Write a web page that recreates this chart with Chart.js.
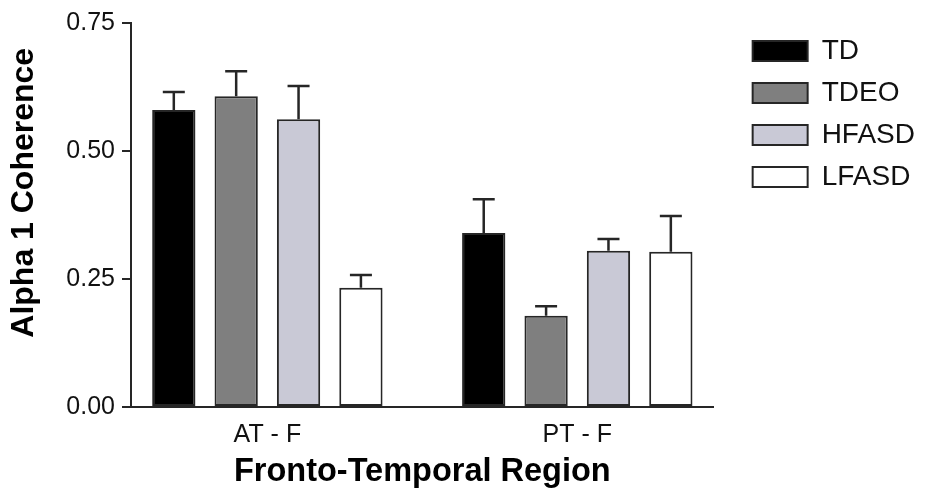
<!DOCTYPE html>
<html>
<head>
<meta charset="utf-8">
<title>Alpha 1 Coherence</title>
<script src="https://cdn.jsdelivr.net/npm/chart.js@4.4.1/dist/chart.umd.min.js"></script>
<style>
  html, body { margin: 0; padding: 0; background: #fff; }
  #wrap { width: 926px; height: 493px; }
</style>
</head>
<body>
<div id="wrap"><canvas id="chart" width="926" height="493"></canvas></div>
<script>
const regions = ["AT - F", "PT - F"];
const groups = ["TD", "TDEO", "HFASD", "LFASD"];

const tdMean = [0.580, 0.340];
const tdSem = [0.035, 0.066];
const tdeoMean = [0.607, 0.178];
const tdeoSem = [0.049, 0.019];
const hfasdMean = [0.562, 0.305];
const hfasdSem = [0.065, 0.023];
const lfasdMean = [0.233, 0.303];
const lfasdSem = [0.025, 0.070];

const yTicks = [0, 0.25, 0.5, 0.75];

const FONT = "'Liberation Sans', Arial, sans-serif";
const INK = "#262626";

const fills = ["#000000", "#7f7f7f", "#c9c9d6", "#ffffff"];
const means = [tdMean, tdeoMean, hfasdMean, lfasdMean];
const sems = [tdSem, tdeoSem, hfasdSem, lfasdSem];

// regions sit at x = 1, 2 on a linear axis so the gap at the edges can be tuned
const xMin = 0.56;
const xMax = 2.44;

const datasets = groups.map((name, g) => ({
  label: name,
  data: means[g].map((v, i) => ({ x: i + 1, y: v })),
  sem: sems[g],
  backgroundColor: fills[g],
  borderColor: INK,
  borderWidth: 2,
  borderSkipped: false,
}));

// upward-only SEM whiskers, same as the original figure
const errorBars = {
  id: "errorBars",
  afterDatasetsDraw(chart) {
    const { ctx } = chart;
    const yScale = chart.scales.y;
    ctx.save();
    ctx.strokeStyle = INK;
    ctx.lineWidth = 2.5;
    chart.data.datasets.forEach((ds, d) => {
      const meta = chart.getDatasetMeta(d);
      meta.data.forEach((bar, i) => {
        const top = yScale.getPixelForValue(ds.data[i].y + ds.sem[i]);
        ctx.beginPath();
        ctx.moveTo(bar.x, bar.y);
        ctx.lineTo(bar.x, top);
        ctx.moveTo(bar.x - 11, top);
        ctx.lineTo(bar.x + 11, top);
        ctx.stroke();
      });
    });
    ctx.restore();
  },
};

new Chart(document.getElementById("chart"), {
  type: "bar",
  data: { datasets },
  options: {
    responsive: false,
    animation: false,
    devicePixelRatio: 1,
    categoryPercentage: 0.805,
    barPercentage: 0.694,
    layout: { padding: { top: 23, right: 1, bottom: 0, left: 0 } },
    plugins: {
      tooltip: { enabled: false },
      legend: {
        position: "right",
        align: "start",
        maxWidth: 400,
        labels: {
          boxWidth: 55,
          boxHeight: 20,
          padding: 14,
          color: "#111",
          font: { family: FONT, size: 28 },
        },
      },
    },
    scales: {
      x: {
        type: "linear",
        min: xMin,
        max: xMax,
        offset: false,
        afterBuildTicks(scale) {
          scale.ticks = regions.map((_, i) => ({ value: i + 1 }));
        },
        afterFit(scale) {
          scale.height = 86;
        },
        grid: { display: false, drawTicks: false },
        border: { display: true, color: INK, width: 2 },
        ticks: {
          padding: 13,
          color: "#111",
          font: { family: FONT, size: 25 },
          callback: (value) => regions[value - 1] || "",
        },
        title: {
          display: true,
          text: "Fronto-Temporal Region",
          color: "#000",
          font: { family: FONT, size: 32.5, weight: "bold" },
          padding: { top: 0, bottom: 1 },
        },
      },
      y: {
        min: 0,
        max: 0.75,
        afterBuildTicks(scale) {
          scale.ticks = yTicks.map((v) => ({ value: v }));
        },
        afterFit(scale) {
          scale.width = 131;
        },
        grid: {
          display: true,
          drawOnChartArea: false,
          drawTicks: true,
          tickLength: 9,
          color: INK,
          lineWidth: 2,
        },
        border: { display: true, color: INK, width: 2 },
        ticks: {
          padding: 7,
          color: "#111",
          font: { family: FONT, size: 25 },
          callback: (value) => Number(value).toFixed(2),
        },
        title: {
          display: true,
          // leading spaces nudge the label up, as in the source figure
          text: "     Alpha 1 Coherence",
          color: "#000",
          font: { family: FONT, size: 32, weight: "bold" },
          padding: { top: 5, bottom: 0 },
        },
      },
      // empty axis on the right keeps the plot clear of the legend
      spacer: {
        type: "linear",
        position: "right",
        display: true,
        afterFit(scale) {
          scale.width = 25;
        },
        grid: { display: false, drawTicks: false },
        border: { display: false },
        ticks: { display: false },
      },
    },
  },
  plugins: [errorBars],
});
</script>
</body>
</html>
